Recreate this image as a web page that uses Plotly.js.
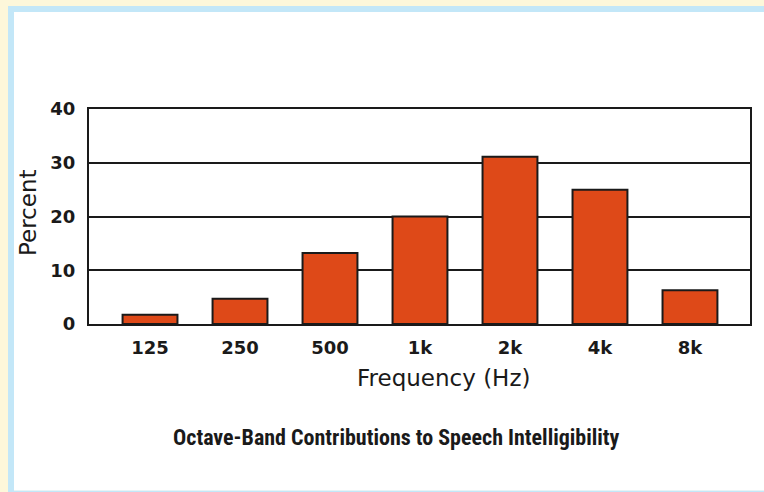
<!DOCTYPE html>
<html>
<head>
<meta charset="utf-8">
<script src="https://cdn.plot.ly/plotly-3.0.1.min.js"></script>
<style>
  html, body { margin: 0; padding: 0; width: 764px; height: 492px; overflow: hidden; background: #fdf7da; }
  #frame { position: absolute; left: 8px; top: 6px; width: 756px; height: 486px; background: #c3e7f8; }
  #chart { position: absolute; left: 14px; top: 12px; width: 750px; height: 478px; background: #ffffff; border-bottom: 1px solid #e6f4f6; }
</style>
</head>
<body>
<div id="frame"></div>
<div id="chart"></div>
<script>
const categories = ["125", "250", "500", "1k", "2k", "4k", "8k"];
const percentValues = [1.7, 4.7, 13.2, 20, 31.1, 25, 6.3];
const yTickValues = [0, 10, 20, 30, 40];
const yTickLabels = ["0", "10", "20", "30", "40"];
const chartTitle = "Octave-Band Contributions to Speech Intelligibility";
const xTitle = "Frequency (Hz)";
const yTitle = "Percent";

const tickFont = { family: "DejaVu Sans, sans-serif", size: 18, color: "#1a1a1a", weight: "bold" };
const labelFont = { family: "DejaVu Sans, sans-serif", size: 23, color: "#1a1a1a" };

const trace = {
  type: "bar",
  x: categories,
  y: percentValues,
  width: 0.61,
  marker: { color: "#de4918", line: { color: "#1a1a1a", width: 2 } },
  hoverinfo: "skip"
};

const layout = {
  width: 750,
  height: 478,
  margin: { l: 75, r: 14, t: 97, b: 166 },
  paper_bgcolor: "rgba(0,0,0,0)",
  plot_bgcolor: "#ffffff",
  showlegend: false,
  xaxis: {
    type: "category",
    range: [-0.678, 6.667],
    showgrid: false,
    zeroline: false,
    showline: true,
    mirror: true,
    linecolor: "#1a1a1a",
    linewidth: 2,
    ticks: "",
    tickfont: tickFont,
    ticklabelstandoff: 6
  },
  yaxis: {
    range: [0, 40],
    tickvals: yTickValues,
    ticktext: yTickLabels,
    showgrid: true,
    gridcolor: "#1a1a1a",
    gridwidth: 2,
    zeroline: false,
    showline: true,
    mirror: true,
    linecolor: "#1a1a1a",
    linewidth: 2,
    ticks: "",
    tickfont: tickFont,
    ticklabelstandoff: 8
  },
  annotations: [
    {
      text: xTitle,
      xref: "paper", yref: "paper",
      x: 0.5356, y: -0.251,
      xanchor: "center", yanchor: "middle",
      showarrow: false,
      font: labelFont
    },
    {
      text: yTitle,
      xref: "paper", yref: "paper",
      x: 0, y: 0.516, xshift: -61,
      xanchor: "center", yanchor: "middle",
      textangle: -90,
      showarrow: false,
      font: labelFont
    },
    {
      text: "<b>" + chartTitle + "</b>",
      xref: "paper", yref: "paper",
      x: 0.4645, y: -0.53,
      xanchor: "center", yanchor: "middle",
      showarrow: false,
      font: { family: "Roboto Condensed, Liberation Sans Narrow, Liberation Sans, sans-serif", size: 22, color: "#1a1a1a" }
    }
  ]
};

Plotly.newPlot("chart", [trace], layout, { staticPlot: true, displayModeBar: false });
</script>
</body>
</html>
